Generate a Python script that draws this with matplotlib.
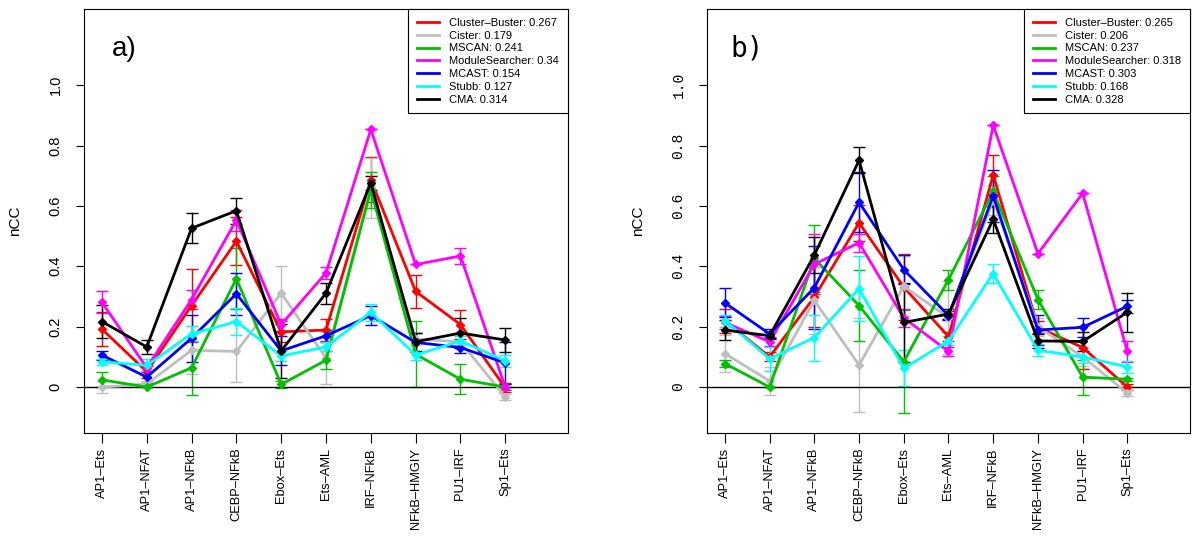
import matplotlib
matplotlib.use('Agg')
import matplotlib.pyplot as plt
from matplotlib.lines import Line2D

plt.rcParams['font.family'] = ['Liberation Sans', 'DejaVu Sans']

motifs = ['AP1–Ets', 'AP1–NFAT', 'AP1–NFkB', 'CEBP–NFkB', 'Ebox–Ets',
          'Ets–AML', 'IRF–NFkB', 'NFkB–HMGIY', 'PU1–IRF', 'Sp1–Ets']
methods = ['Cluster–Buster', 'Cister', 'MSCAN', 'ModuleSearcher', 'MCAST', 'Stubb', 'CMA']
colors = ['#FF0000', '#BEBEBE', '#00C000', '#FF00FF', '#0000FF', '#00FFFF', '#000000']

# panel a) mean nCC per method, and error bar half widths
means_a = ['0.267', '0.179', '0.241', '0.34', '0.154', '0.127', '0.314']
cb_a = [0.192, 0.051, 0.270, 0.483, 0.183, 0.189, 0.687, 0.317, 0.207, -0.002]
cister_a = [0.0, 0.01, 0.122, 0.118, 0.311, 0.096, 0.66, 0.159, 0.15, -0.033]
mscan_a = [0.024, 0.0, 0.064, 0.359, 0.009, 0.089, 0.653, 0.109, 0.026, 0.0]
ms_a = [0.281, 0.064, 0.29, 0.553, 0.207, 0.378, 0.853, 0.406, 0.434, 0.0]
mcast_a = [0.106, 0.033, 0.162, 0.309, 0.12, 0.17, 0.237, 0.148, 0.131, 0.08]
stubb_a = [0.084, 0.072, 0.176, 0.217, 0.103, 0.133, 0.248, 0.106, 0.153, 0.087]
cma_a = [0.217, 0.133, 0.526, 0.584, 0.12, 0.311, 0.676, 0.15, 0.179, 0.156]

cb_a_err = [0.057, 0.02, 0.12, 0.08, 0.035, 0.037, 0.075, 0.055, 0.048, 0.015]
cister_a_err = [0.02, 0.01, 0.08, 0.1, 0.09, 0.085, 0.1, 0.02, 0.02, 0.01]
mscan_a_err = [0.025, 0.0, 0.09, 0.1, 0.012, 0.03, 0.06, 0.11, 0.05, 0.0]
ms_a_err = [0.037, 0.015, 0.03, 0.035, 0.02, 0.02, 0.0, 0.0, 0.026, 0.01]
mcast_a_err = [0.015, 0.02, 0.078, 0.07, 0.048, 0.02, 0.032, 0.032, 0.017, 0.07]
stubb_a_err = [0.01, 0.02, 0.025, 0.045, 0.015, 0.015, 0.028, 0.015, 0.015, 0.02]
cma_a_err = [0.055, 0.023, 0.05, 0.043, 0.09, 0.035, 0.022, 0.03, 0.05, 0.04]

# panel b)
means_b = ['0.265', '0.206', '0.237', '0.318', '0.303', '0.168', '0.328']
cb_b = [0.22, 0.10, 0.298, 0.544, 0.331, 0.167, 0.703, 0.198, 0.131, 0.0]
cister_b = [0.111, 0.02, 0.287, 0.073, 0.334, 0.23, 0.62, 0.2, 0.1, -0.02]
mscan_b = [0.078, 0.0, 0.426, 0.27, 0.084, 0.356, 0.648, 0.29, 0.033, 0.026]
ms_b = [0.214, 0.15, 0.407, 0.478, 0.229, 0.118, 0.867, 0.442, 0.642, 0.118]
mcast_b = [0.279, 0.176, 0.329, 0.612, 0.389, 0.237, 0.633, 0.189, 0.198, 0.268]
stubb_b = [0.22, 0.094, 0.164, 0.326, 0.062, 0.153, 0.376, 0.122, 0.1, 0.067]
cma_b = [0.189, 0.17, 0.437, 0.751, 0.214, 0.242, 0.556, 0.153, 0.151, 0.248]

cb_b_err = [0.04, 0.015, 0.1, 0.06, 0.11, 0.015, 0.065, 0.02, 0.07, 0.01]
cister_b_err = [0.06, 0.045, 0.11, 0.157, 0.1, 0.12, 0.05, 0.03, 0.03, 0.01]
mscan_b_err = [0.013, 0.0, 0.11, 0.118, 0.17, 0.033, 0.05, 0.03, 0.058, 0.005]
ms_b_err = [0.02, 0.015, 0.1, 0.03, 0.03, 0.015, 0.0, 0.0, 0.0, 0.035]
mcast_b_err = [0.048, 0.015, 0.138, 0.1, 0.047, 0.015, 0.085, 0.05, 0.032, 0.022]
stubb_b_err = [0.02, 0.04, 0.076, 0.108, 0.06, 0.015, 0.032, 0.02, 0.02, 0.02]
cma_b_err = [0.032, 0.012, 0.06, 0.043, 0.13, 0.015, 0.045, 0.022, 0.03, 0.064]

series_a = [cb_a, cister_a, mscan_a, ms_a, mcast_a, stubb_a, cma_a]
errs_a = [cb_a_err, cister_a_err, mscan_a_err, ms_a_err, mcast_a_err, stubb_a_err, cma_a_err]
series_b = [cb_b, cister_b, mscan_b, ms_b, mcast_b, stubb_b, cma_b]
errs_b = [cb_b_err, cister_b_err, mscan_b_err, ms_b_err, mcast_b_err, stubb_b_err, cma_b_err]


def panel(ax, series, errs, means, tag, tagfont, tickfont):
    x = list(range(1, len(motifs) + 1))
    for vals, err, col in zip(series, errs, colors):
        ax.errorbar(x, vals, yerr=err, color=col, lw=2, marker='D', ms=4,
                    capsize=4, elinewidth=1, capthick=1)
    ax.axhline(0, color='black', lw=1)
    ax.set_xlim(0.6, 11.4)
    ax.set_ylim(-0.152, 1.252)
    ax.set_xticks(x)
    ax.set_xticklabels(motifs, rotation=90, fontsize=9.3)
    ax.set_yticks([0, 0.2, 0.4, 0.6, 0.8, 1.0])
    ax.set_yticklabels(['0', '0.2', '0.4', '0.6', '0.8', '1.0'], rotation=90,
                       va='center', fontsize=10.5, family=tickfont)
    ax.tick_params(axis='x', direction='out', length=7.5, pad=3, width=0.8)
    ax.tick_params(axis='y', direction='out', length=5.5, pad=10, width=0.8)
    for s in ax.spines.values():
        s.set_linewidth(0.8)
    handles = [Line2D([], [], color=c, lw=2) for c in colors]
    labels = [f'{m}: {v}' for m, v in zip(methods, means)]
    leg = ax.legend(handles, labels, loc='upper right', fontsize=8,
                    borderaxespad=0, fancybox=False, framealpha=1,
                    edgecolor='black', handlelength=2.0, handletextpad=0.9,
                    labelspacing=0.25, borderpad=0.8)
    leg.get_frame().set_linewidth(0.8)
    ax.text(1.5, 1.12, tag, fontsize=20, family=tagfont, ha='center', va='center')


fig = plt.figure(figsize=(12, 5.39), dpi=100)
ax_a = fig.add_axes([84 / 1200, 1 - 433 / 539, 484 / 1200, 424 / 539])
ax_b = fig.add_axes([707 / 1200, 1 - 433 / 539, 483 / 1200, 424 / 539])

panel(ax_a, series_a, errs_a, means_a, 'a)', 'Liberation Sans', 'Liberation Sans')
panel(ax_b, series_b, errs_b, means_b, 'b)', 'DejaVu Sans Mono', 'Liberation Mono')

fig.text(15 / 1200, 1 - 221 / 539, 'nCC', rotation=90, ha='center', va='center', fontsize=11)
fig.text(638 / 1200, 1 - 221 / 539, 'nCC', rotation=90, ha='center', va='center', fontsize=11)

fig.savefig('out.png', dpi=100)
